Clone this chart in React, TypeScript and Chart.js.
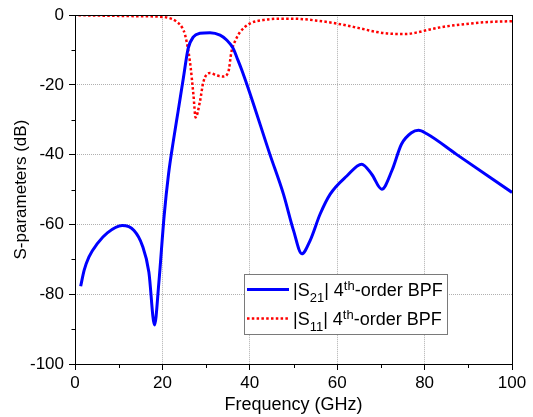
import React, { useEffect, useRef } from 'react';
import { Chart, registerables } from 'chart.js';

Chart.register(...registerables);

// |S21| (blue, solid)
const s21Freq = [1.3, 2.1, 3.2, 5.1, 7.4, 10.8, 13.5, 15.4, 16.9, 18.2, 19.2, 20.4, 21.4, 22.5, 23.6, 24.8, 25.9, 27.1, 28.6, 30.9, 33.2, 34.7, 36.2, 37, 38.1, 40, 44.6, 47.7, 50, 51.9, 53.8, 56.1, 58.4, 62.2, 65.6, 67.9, 70.2, 72.5, 74.7, 77, 78.6, 80.5, 87.3, 100];
const s21Db = [-77.7, -73.1, -69.3, -65.5, -62.4, -60.3, -61.7, -66, -73.6, -88.8, -76.5, -57.5, -45.6, -36.1, -27.5, -18, -9.5, -6.2, -5.2, -5.0, -5.7, -7.1, -9.5, -12, -15.5, -22.3, -39.9, -51.3, -61.7, -68.4, -64.6, -57, -51.3, -46.1, -42.7, -45.6, -49.9, -44.6, -37, -33.7, -33.0, -34.0, -39.9, -50.8];

// |S11| (red, dotted)
const s11Freq = [0.8, 5, 10, 15, 20.2, 22, 23.3, 24.5, 25.2, 26.3, 27.1, 27.6, 28.6, 29.4, 30.9, 32.5, 33.9, 35.1, 35.8, 36.8, 37.8, 40, 43, 46.9, 50, 55, 59.9, 65, 69, 72, 75.9, 78, 80.5, 84, 88.1, 94, 100];
const s11Db = [0, -0.1, -0.2, -0.3, -0.5, -1.0, -1.9, -3.5, -5.7, -13.3, -22.8, -29.3, -24.7, -19, -16.6, -17.3, -17.6, -16.2, -10.5, -7, -4.8, -2.4, -1.4, -1.0, -1.0, -1.5, -2.4, -3.7, -4.8, -5.3, -5.4, -5.0, -4.3, -3.4, -2.7, -2.0, -1.7];

const seriesLabels = ['|S21| 4th-order BPF', '|S11| 4th-order BPF'];
// rich-text pieces of the legend labels (sub/superscripts)
const legendPieces = [
  [{ t: '|S' }, { t: '21', k: 'sub' }, { t: '| 4' }, { t: 'th', k: 'sup' }, { t: '-order BPF' }],
  [{ t: '|S' }, { t: '11', k: 'sub' }, { t: '| 4' }, { t: 'th', k: 'sup' }, { t: '-order BPF' }],
];

const xMin = 0, xMax = 100, xStep = 20;
const yMin = -100, yMax = 0, yStep = 20;
const xMinorTicks = [10, 30, 50, 70, 90];
const yMinorTicks = [-10, -30, -50, -70, -90];
const xTitle = 'Frequency (GHz)';
const yTitle = 'S-parameters (dB)';

const FONT = '"Liberation Sans", Arial, sans-serif';

const framePlugin = {
  id: 'frameAndLegend',
  afterDraw(chart: any) {
    const { ctx, chartArea: a, scales } = chart;
    const xs = scales.x, ys = scales.y;
    ctx.save();
    // frame
    ctx.strokeStyle = '#000';
    ctx.lineWidth = 1;
    ctx.setLineDash([]);
    ctx.strokeRect(Math.round(a.left) + 0.5, Math.round(a.top) + 0.5, Math.round(a.right - a.left), Math.round(a.bottom - a.top));
    // minor ticks
    ctx.beginPath();
    for (const v of xMinorTicks) {
      const px = Math.round(xs.getPixelForValue(v)) + 0.5;
      ctx.moveTo(px, Math.round(a.bottom));
      ctx.lineTo(px, Math.round(a.bottom) + 4);
    }
    for (const v of yMinorTicks) {
      const py = Math.round(ys.getPixelForValue(v)) + 0.5;
      ctx.moveTo(Math.round(a.left) - 3.5, py);
      ctx.lineTo(Math.round(a.left), py);
    }
    ctx.stroke();

    // legend
    const lx = 244, ly = 274, lw = 203, lh = 60;
    ctx.fillStyle = '#fff';
    ctx.fillRect(lx, ly, lw, lh);
    ctx.strokeStyle = '#7a7a7a';
    ctx.strokeRect(lx + 0.5, ly + 0.5, lw, lh);
    const rows = [289.5, 318.5];
    chart.data.datasets.forEach((ds: any, i: number) => {
      const yy = rows[i];
      ctx.beginPath();
      ctx.strokeStyle = ds.borderColor;
      ctx.lineWidth = ds.borderWidth;
      ctx.setLineDash(ds.borderDash || []);
      ctx.moveTo(247, yy);
      ctx.lineTo(289, yy);
      ctx.stroke();
      ctx.setLineDash([]);
      let tx = 293;
      const base = yy + 6.5;
      ctx.fillStyle = '#000';
      ctx.textBaseline = 'alphabetic';
      ctx.textAlign = 'left';
      for (const p of legendPieces[i] as any[]) {
        let size = 18, dy = 0;
        if (p.k === 'sub') { size = 13; dy = 5.5; }
        if (p.k === 'sup') { size = 13; dy = -6.5; }
        ctx.font = `${size}px ${FONT}`;
        ctx.fillText(p.t, tx, base + dy);
        tx += ctx.measureText(p.t).width;
      }
    });
    ctx.restore();
  },
};

export default function App() {
  const ref = useRef<HTMLCanvasElement | null>(null);
  useEffect(() => {
    if (!ref.current) return;
    const chart = new Chart(ref.current, {
      type: 'line',
      data: {
        datasets: [
          {
            label: seriesLabels[0],
            data: s21Freq.map((f, i) => ({ x: f, y: s21Db[i] })),
            borderColor: '#0000ff',
            borderWidth: 3,
            pointRadius: 0,
            cubicInterpolationMode: 'monotone',
            fill: false,
          },
          {
            label: seriesLabels[1],
            data: s11Freq.map((f, i) => ({ x: f, y: s11Db[i] })),
            borderColor: '#ff0000',
            borderWidth: 2.5,
            borderDash: [2.5, 2.3],
            pointRadius: 0,
            cubicInterpolationMode: 'monotone',
            fill: false,
          },
        ],
      },
      options: {
        animation: false,
        responsive: false,
        layout: { padding: { top: 13, right: 21, left: 0, bottom: 0 } },
        plugins: { legend: { display: false }, tooltip: { enabled: false } },
        scales: {
          x: {
            type: 'linear',
            min: xMin,
            max: xMax,
            ticks: { stepSize: xStep, color: '#000', font: { family: FONT, size: 17 }, padding: 3, maxRotation: 0 },
            grid: { color: '#b0b0b0', lineWidth: 1, drawTicks: true, tickLength: 6, tickColor: '#000', tickWidth: 1 },
            border: { display: false, dash: [1, 1] },
            title: { display: true, text: xTitle, color: '#000', font: { family: FONT, size: 18 }, padding: { top: 0, bottom: 1 } },
            afterFit: (s: any) => { s.height = 53; },
          },
          y: {
            type: 'linear',
            min: yMin,
            max: yMax,
            ticks: { stepSize: yStep, color: '#000', font: { family: FONT, size: 17 }, padding: 5 },
            grid: { color: '#b0b0b0', lineWidth: 1, drawTicks: true, tickLength: 6, tickColor: '#000', tickWidth: 1 },
            border: { display: false, dash: [1, 1] },
            title: { display: true, text: yTitle, color: '#000', font: { family: FONT, size: 17 }, padding: { top: 11, bottom: 0 } },
            afterFit: (s: any) => { s.width = 75; },
          },
        },
      },
      plugins: [framePlugin],
    } as any);
    return () => chart.destroy();
  }, []);
  return (
    <div style={{ position: 'fixed', left: 0, top: 0, width: 533, height: 417, background: '#fff' }}>
      <canvas ref={ref} width={533} height={417} style={{ display: 'block' }} />
    </div>
  );
}
